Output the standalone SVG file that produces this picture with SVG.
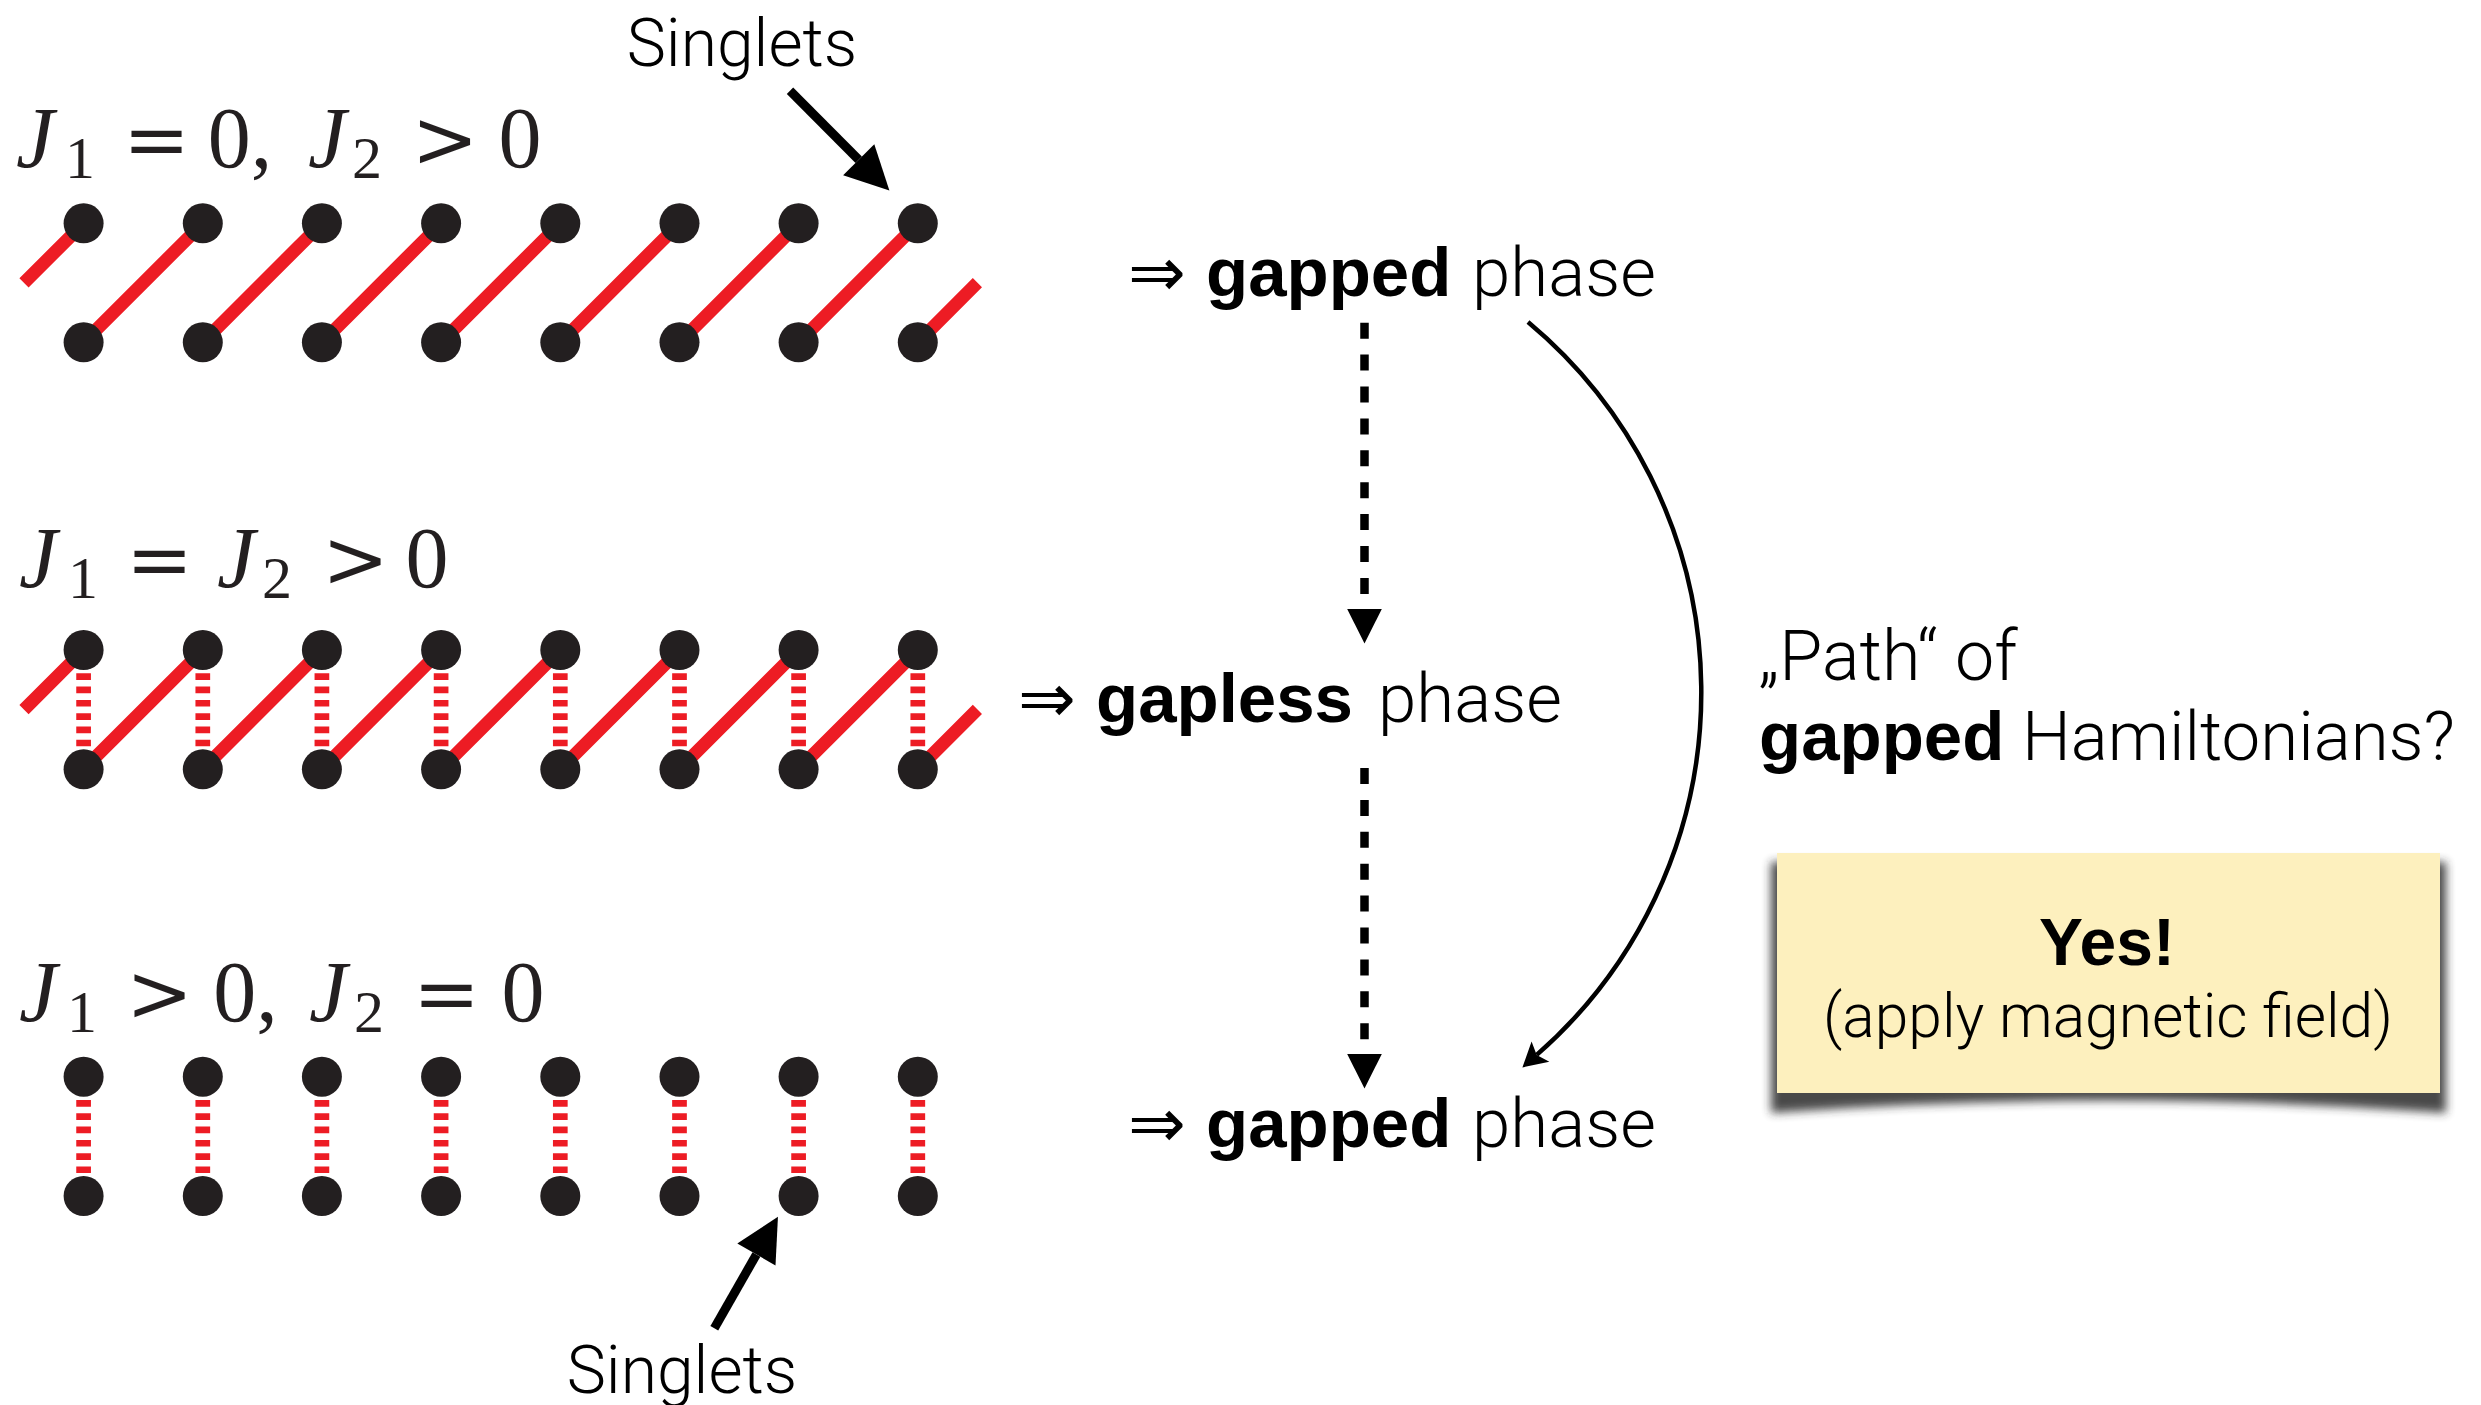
<svg xmlns="http://www.w3.org/2000/svg" width="2481" height="1405" viewBox="0 0 2481 1405">
<style>
.dot{fill:#231F20}
.bond{stroke:#ED1C24;stroke-width:13;fill:none}
.weak{stroke:#ED1C24;stroke-width:14.7;stroke-dasharray:6.7 6.6;fill:none}
.math{font-family:"Liberation Serif","Times New Roman",serif;font-size:86px;fill:#231F20;text-anchor:middle}
.mi{font-style:italic}
.sub{font-size:60px}
.op{font-family:"DejaVu Serif","Liberation Serif",serif;font-size:80px}
.light{font-family:Roboto,"Liberation Sans",Arial,sans-serif;font-weight:300;fill:#000}
.bold{font-family:"Liberation Sans",Arial,sans-serif;font-weight:700;fill:#000}
.arr{font-family:"DejaVu Sans",sans-serif;font-weight:400;fill:#000}
.thick{stroke:#000;stroke-width:9;fill:none}
.dash{stroke:#000;stroke-width:8.5;stroke-dasharray:16 15.9;fill:none}
.curve{stroke:#000;stroke-width:4.5;fill:none}
</style>
<defs>
<marker id="bigHead" markerUnits="userSpaceOnUse" markerWidth="60" markerHeight="60" viewBox="-5 -30 60 60" refX="0" refY="0" orient="auto" overflow="visible">
<path d="M0,-22 L43.5,0 L0,22 Z" fill="#000"/>
</marker>
<marker id="dashHead" markerUnits="userSpaceOnUse" markerWidth="50" markerHeight="50" viewBox="-5 -25 50 50" refX="0" refY="0" orient="auto" overflow="visible">
<path d="M0,-17.3 L34.5,0 L0,17.3 Z" fill="#000"/>
</marker>
<marker id="barbHead" markerUnits="userSpaceOnUse" markerWidth="40" markerHeight="40" viewBox="-5 -20 40 40" refX="5" refY="0" orient="auto" overflow="visible">
<path d="M24,0 L0,-13.5 L5,0 L0,13.5 Z" fill="#000"/>
</marker>
<filter id="shadowBlur" x="-10%" y="-20%" width="120%" height="160%">
<feGaussianBlur stdDeviation="5"/>
</filter>
<g id="dots8">
<circle cx="83.6" cy="0" r="20"/><circle cx="202.8" cy="0" r="20"/><circle cx="321.9" cy="0" r="20"/><circle cx="441.1" cy="0" r="20"/>
<circle cx="560.3" cy="0" r="20"/><circle cx="679.5" cy="0" r="20"/><circle cx="798.6" cy="0" r="20"/><circle cx="917.8" cy="0" r="20"/>
</g>
<path id="diag" d="M24,59.6 L83.6,0 M83.6,119 L202.8,0 M202.8,119 L321.9,0 M321.9,119 L441.1,0 M441.1,119 L560.3,0 M560.3,119 L679.5,0 M679.5,119 L798.6,0 M798.6,119 L917.8,0 M917.8,119 L977.4,59.4"/>
<path id="rungs" d="M83.6,23.3 V96.3 M202.8,23.3 V96.3 M321.9,23.3 V96.3 M441.1,23.3 V96.3 M560.3,23.3 V96.3 M679.5,23.3 V96.3 M798.6,23.3 V96.3 M917.8,23.3 V96.3"/>
</defs>
<rect x="0" y="0" width="2481" height="1405" fill="#fff"/>

<!-- Row 1: J1 = 0, J2 > 0 -->
<g id="row1">
<use href="#diag" class="bond" transform="translate(0,223.3)"/>
<use href="#dots8" class="dot" transform="translate(0,223.3)"/>
<use href="#dots8" class="dot" transform="translate(0,342.3)"/>
</g>
<g id="label1">
<text class="math" y="167"><tspan class="mi" x="35">J</tspan><tspan class="sub" x="80" dy="11">1</tspan><tspan class="op" x="156.5" dy="-11">=</tspan><tspan x="240">0,</tspan><tspan class="mi" x="327">J</tspan><tspan class="sub" x="367" dy="11">2</tspan><tspan class="op" x="445" dy="-11">&gt;</tspan><tspan x="520">0</tspan></text>
</g>

<!-- Row 2: J1 = J2 > 0 -->
<g id="row2">
<use href="#diag" class="bond" transform="translate(0,650)"/>
<use href="#rungs" class="weak" transform="translate(0,650)"/>
<use href="#dots8" class="dot" transform="translate(0,650)"/>
<use href="#dots8" class="dot" transform="translate(0,769.3)"/>
</g>
<g id="label2">
<text class="math" y="587"><tspan class="mi" x="38">J</tspan><tspan class="sub" x="83" dy="11">1</tspan><tspan class="op" x="159.5" dy="-11">=</tspan><tspan class="mi" x="236">J</tspan><tspan class="sub" x="277" dy="11">2</tspan><tspan class="op" x="355.5" dy="-11">&gt;</tspan><tspan x="427">0</tspan></text>
</g>

<!-- Row 3: J1 > 0, J2 = 0 -->
<g id="row3">
<use href="#rungs" class="weak" transform="translate(0,1076.7)"/>
<use href="#dots8" class="dot" transform="translate(0,1076.7)"/>
<use href="#dots8" class="dot" transform="translate(0,1196)"/>
</g>
<g id="label3">
<text class="math" y="1021"><tspan class="mi" x="38">J</tspan><tspan class="sub" x="82" dy="11">1</tspan><tspan class="op" x="159.5" dy="-11">&gt;</tspan><tspan x="245.5">0,</tspan><tspan class="mi" x="328">J</tspan><tspan class="sub" x="369" dy="11">2</tspan><tspan class="op" x="446.5" dy="-11">=</tspan><tspan x="523">0</tspan></text>
</g>

<!-- Singlets labels -->
<g id="singletsTop">
<text class="light" x="742" y="66" font-size="66" text-anchor="middle">Singlets</text>
</g>
<g id="singletsBottom">
<text class="light" x="682" y="1393" font-size="66" text-anchor="middle">Singlets</text>
</g>

<!-- Phase labels -->
<g id="phaseTop">
<text y="296" font-size="69"><tspan class="arr" x="1128">⇒</tspan><tspan class="bold" x="1206">gapped</tspan><tspan class="light" x="1472">phase</tspan></text>
</g>
<g id="phaseMiddle">
<text y="722" font-size="69"><tspan class="arr" x="1018">⇒</tspan><tspan class="bold" x="1096">gapless</tspan><tspan class="light" x="1378">phase</tspan></text>
</g>
<g id="phaseBottom">
<text y="1147" font-size="69"><tspan class="arr" x="1128">⇒</tspan><tspan class="bold" x="1206">gapped</tspan><tspan class="light" x="1472">phase</tspan></text>
</g>

<!-- Question -->
<g id="question">
<text class="light" x="1759" y="680" font-size="70">„Path“ of</text>
<text y="760" font-size="69"><tspan class="bold" x="1759">gapped</tspan><tspan class="light" x="2022">Hamiltonians?</tspan></text>
</g>

<!-- Answer box -->
<g id="answer">
<path d="M1771,862 L2446,862 L2446,1113 Q2108,1088 1771,1113 Z" fill="#2a2a2a" opacity="0.85" filter="url(#shadowBlur)"/>
<rect x="1777" y="853" width="663" height="240" fill="#FDF0BE"/>
<text class="bold" x="2107" y="965" font-size="66" text-anchor="middle">Yes!</text>
<text class="light" x="2108" y="1037" font-size="60.5" text-anchor="middle">(apply magnetic field)</text>
</g>

<!-- Connectors -->
<g id="connectors">
<line class="thick" x1="790" y1="90.7" x2="858.7" y2="159.7" marker-end="url(#bigHead)"/>
<line class="thick" x1="714.3" y1="1328.3" x2="756.4" y2="1254.5" marker-end="url(#bigHead)"/>
<line class="dash" x1="1364.5" y1="322.7" x2="1364.5" y2="609" marker-end="url(#dashHead)"/>
<line class="dash" x1="1364.5" y1="768" x2="1364.5" y2="1054" marker-end="url(#dashHead)"/>
<path class="curve" d="M1528,322 A482,482 0 0 1 1536.7,1054.9" marker-end="url(#barbHead)"/>
</g>
</svg>
